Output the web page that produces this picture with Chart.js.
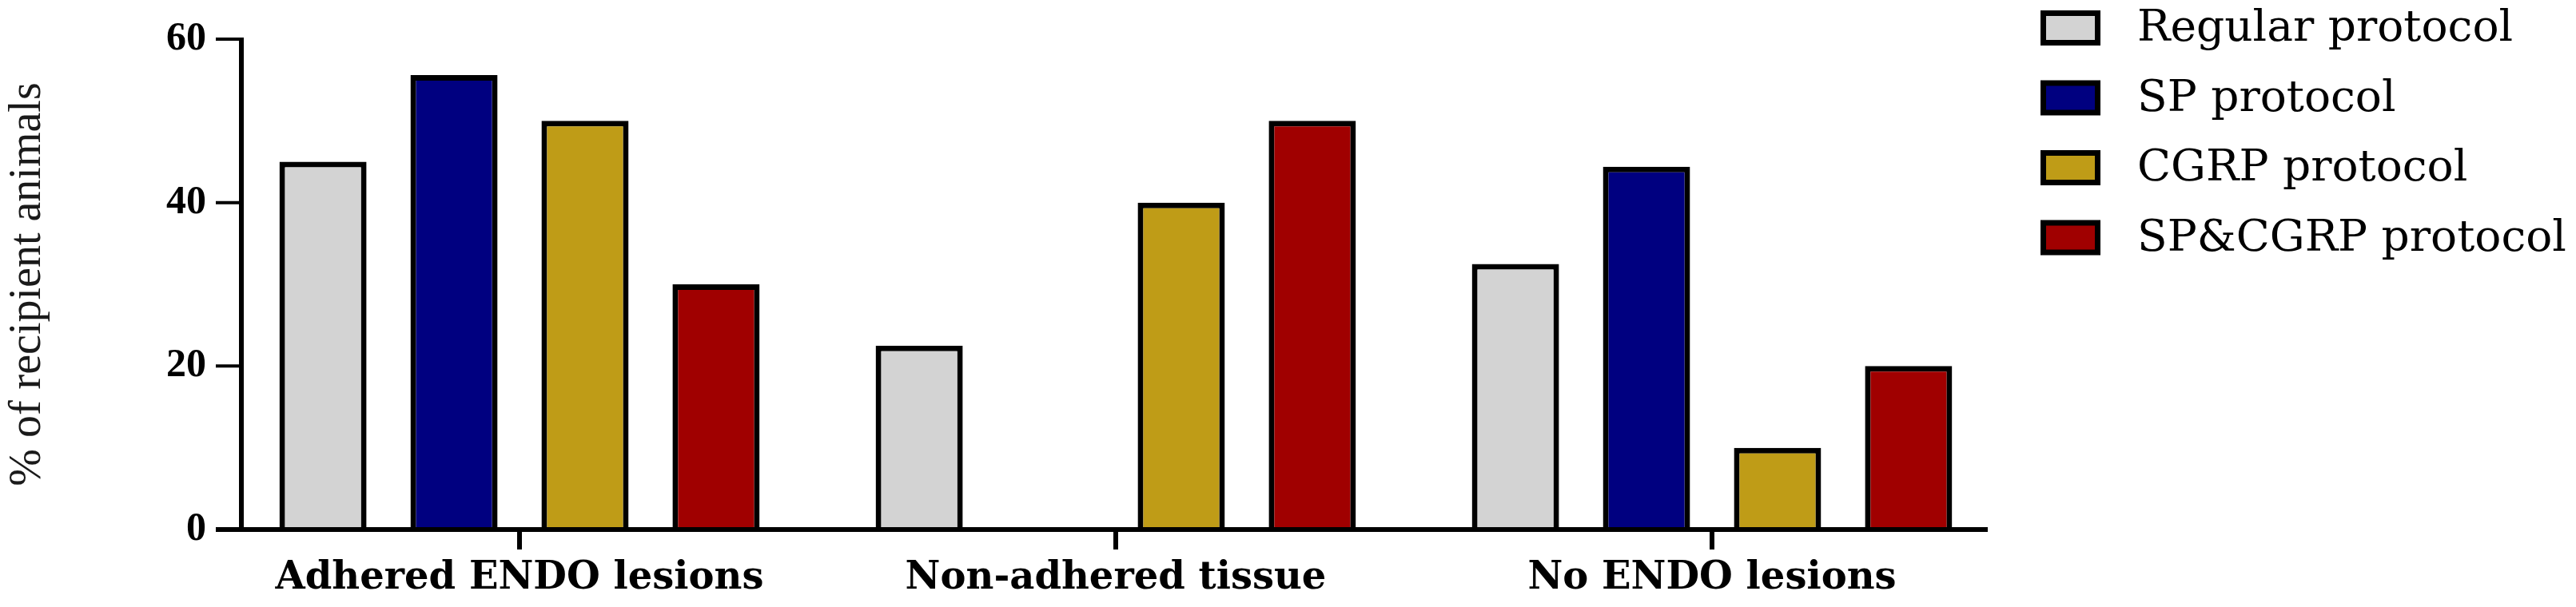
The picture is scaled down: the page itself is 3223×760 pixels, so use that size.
<!DOCTYPE html>
<html>
<head>
<meta charset="utf-8">
<script src="https://cdn.jsdelivr.net/npm/chart.js@4.4.1/dist/chart.umd.min.js"></script>
<style>
  html, body { margin: 0; padding: 0; background: #ffffff; }
  canvas { display: block; }
</style>
</head>
<body>
<canvas id="c" width="3223" height="760"></canvas>
<script>
// ---- data ----
const categories = ["Adhered ENDO lesions", "Non-adhered tissue", "No ENDO lesions"];
const seriesNames = ["Regular protocol", "SP protocol", "CGRP protocol", "SP&CGRP protocol"];
const regularValues = [45, 22.5, 32.5];
const spValues = [55.6, 0, 44.4];
const cgrpValues = [50, 40, 10];
const spCgrpValues = [30, 50, 20];
const yTicks = [0, 20, 40, 60];
const yTitle = "% of recipient animals";

// ---- styles ----
const colors = ["#D3D3D3", "#000080", "#BF9C17", "#A00000"];
const seriesValues = [regularValues, spValues, cgrpValues, spCgrpValues];

const AXIS_W = 6, TICK_W = 4, Y_TICK_LEN = 32, X_TICK_LEN = 25;
const AXIS_INSET_LEFT = 25, AXIS_INSET_RIGHT = 28;

const axesPlugin = {
  id: 'customAxes',
  afterDatasetsDraw(chart) {
    const ctx = chart.ctx, ca = chart.chartArea;
    const xs = chart.scales.x, ys = chart.scales.y;
    const axisX = ca.left + AXIS_INSET_LEFT;
    const xEnd = ca.right - AXIS_INSET_RIGHT;
    const y0 = ys.getPixelForValue(0);
    const yTop = ys.getPixelForValue(yTicks[yTicks.length - 1]);
    ctx.save();
    ctx.strokeStyle = '#000';
    ctx.lineCap = 'butt';
    // y axis line
    ctx.lineWidth = AXIS_W;
    ctx.beginPath();
    ctx.moveTo(axisX, yTop - TICK_W / 2);
    ctx.lineTo(axisX, y0);
    ctx.stroke();
    // y ticks
    ctx.lineWidth = TICK_W;
    yTicks.forEach(v => {
      if (v === 0) return;
      const p = ys.getPixelForValue(v);
      ctx.beginPath();
      ctx.moveTo(axisX - Y_TICK_LEN, p);
      ctx.lineTo(axisX + AXIS_W / 2, p);
      ctx.stroke();
    });
    // x axis line
    ctx.lineWidth = AXIS_W;
    ctx.beginPath();
    ctx.moveTo(axisX - Y_TICK_LEN, y0);
    ctx.lineTo(xEnd, y0);
    ctx.stroke();
    // x ticks
    ctx.lineWidth = AXIS_W;
    categories.forEach((c, i) => {
      const p = xs.getPixelForValue(i);
      ctx.beginPath();
      ctx.moveTo(p, y0);
      ctx.lineTo(p, y0 + X_TICK_LEN);
      ctx.stroke();
    });
    ctx.restore();
  }
};

const legendPlugin = {
  id: 'customLegend',
  afterDraw(chart) {
    const ctx = chart.ctx;
    const boxX = 2553, boxTop = 13, boxW = 75, boxH = 44, step = 87.5, bw = 7;
    const textX = 2674;
    ctx.save();
    chart.data.datasets.forEach((ds, i) => {
      const y = boxTop + i * step;
      ctx.fillStyle = '#000';
      ctx.fillRect(boxX, y, boxW, boxH);
      ctx.fillStyle = ds.backgroundColor;
      ctx.fillRect(boxX + bw, y + bw, boxW - 2 * bw, boxH - 2 * bw);
      ctx.fillStyle = '#000';
      ctx.font = '55px "DejaVu Serif"';
      ctx.textBaseline = 'middle';
      ctx.textAlign = 'left';
      ctx.fillText(ds.label, textX, y + boxH / 2 + 2);
    });
    ctx.restore();
  }
};

const datasets = seriesNames.map((name, i) => ({
  label: name,
  data: seriesValues[i],
  backgroundColor: colors[i],
  borderColor: '#000',
  borderWidth: 7,
  borderSkipped: 'start',
  barPercentage: 0.665,
  categoryPercentage: 0.879
}));

new Chart(document.getElementById('c'), {
  type: 'bar',
  data: { labels: categories, datasets },
  options: {
    responsive: false,
    animation: false,
    devicePixelRatio: 1,
    layout: { padding: { top: 44, right: 708, bottom: 0, left: 0 } },
    plugins: { legend: { display: false }, tooltip: { enabled: false } },
    scales: {
      x: {
        type: 'category',
        offset: true,
        grid: { display: false, drawTicks: false },
        border: { display: false },
        ticks: {
          autoSkip: false, maxRotation: 0, minRotation: 0,
          color: '#000',
          padding: 33,
          font: { family: '"DejaVu Serif"', size: 48, weight: 'bold' }
        },
        afterFit(s) { s.height = 97; }
      },
      y: {
        min: 0, max: 60,
        grid: { display: false, drawTicks: false },
        border: { display: false },
        afterBuildTicks(s) { s.ticks = yTicks.map(v => ({ value: v })); },
        ticks: {
          color: '#000',
          padding: 19,
          font: { family: '"Liberation Serif"', size: 50, weight: 'bold' }
        },
        title: {
          display: true,
          text: yTitle,
          color: '#1a1a1a',
          padding: { top: 2, bottom: 0 },
          font: { family: '"Liberation Serif"', size: 56, weight: 'normal' }
        },
        afterFit(s) { s.width = 277; }
      }
    }
  },
  plugins: [axesPlugin, legendPlugin]
});
</script>
</body>
</html>
